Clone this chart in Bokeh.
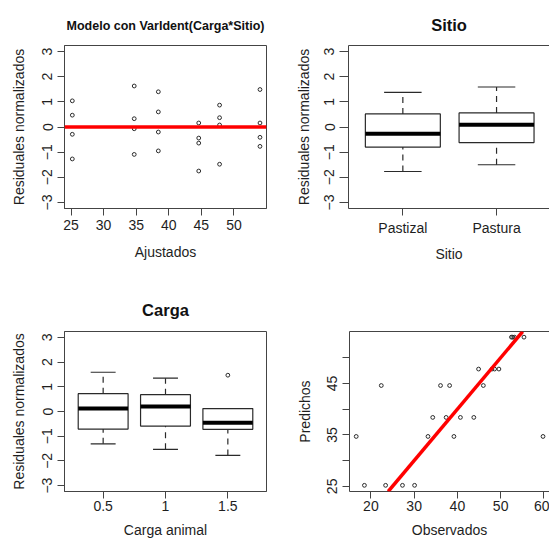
from bokeh.plotting import figure
from bokeh.layouts import column, row
from bokeh.models import Range1d, FixedTicker, Span, Slope, LinearAxis
from bokeh.embed import file_html
from bokeh.resources import INLINE

# ---- data -------------------------------------------------------------
# fitted (predicted) value of each observation, 6 Carga x Sitio cells of 4
fitted = [25.2, 25.2, 25.2, 25.2,
          34.7, 34.7, 34.7, 34.7,
          38.4, 38.4, 38.4, 38.4,
          44.6, 44.6, 44.6, 44.6,
          47.8, 47.8, 47.8, 47.8,
          54.0, 54.0, 54.0, 54.0]
observed = [18.5, 23.4, 27.3, 30.1,
            16.6, 33.2, 39.2, 59.8,
            34.3, 37.4, 40.7, 43.8,
            22.4, 36.1, 38.2, 46.0,
            44.9, 48.0, 48.6, 49.6,
            52.5, 52.8, 53.2, 55.4]
residuals = [-1.27, -0.29, 0.47, 1.04,
             -1.09, -0.07, 0.33, 1.63,
             -0.95, -0.20, 0.60, 1.40,
             -1.75, -0.64, -0.44, 0.16,
             -1.48, 0.08, 0.37, 0.87,
             -0.77, -0.41, 0.16, 1.49]

# boxplot summaries of the normalized residuals
sitio_labels = ["Pastizal", "Pastura"]
sitio_lo = [-1.77, -1.50]
sitio_q1 = [-0.80, -0.62]
sitio_med = [-0.27, 0.09]
sitio_q3 = [0.52, 0.56]
sitio_hi = [1.38, 1.59]

carga_labels = ["0.5", "1", "1.5"]
carga_lo = [-1.31, -1.53, -1.78]
carga_q1 = [-0.71, -0.59, -0.72]
carga_med = [0.12, 0.20, -0.46]
carga_q3 = [0.72, 0.68, 0.12]
carga_hi = [1.59, 1.35, 0.12]
carga_out_group = [3]
carga_out_value = [1.47]

resid_ticks = [-3, -2, -1, 0, 1, 2, 3]
fitted_ticks = [25, 30, 35, 40, 45, 50]
obs_ticks = [20, 30, 40, 50, 60]
pred_ticks = [25, 30, 35, 40, 45, 50]
pred_tick_labels = {30: "", 40: "", 50: ""}

# ---- styling ----------------------------------------------------------
FONT = "Liberation Sans"
TEXT = "#1e1e1e"
FRAME = "#444444"
INK = "#2a2a2a"
DOT = 3.8
FS = "14px"


def base_fig(w, h, xr, yr, left, right, top, bottom, title=None):
    p = figure(width=w, height=h, x_range=xr, y_range=yr,
               output_backend="svg", toolbar_location=None,
               min_border_left=left, min_border_right=right,
               min_border_top=top, min_border_bottom=bottom,
               title=title)
    p.grid.visible = False
    p.background_fill_color = "white"
    p.border_fill_color = "white"
    p.outline_line_color = FRAME
    p.outline_line_width = 1
    if title:
        p.title.align = "center"
        p.title.text_font = FONT
        p.title.text_font_style = "bold"
        p.title.text_color = "#111111"
    return p


def style_axis(ax, label, ticks, tick_out=7, label_standoff=4,
               axis_standoff=12, overrides=None):
    ax.ticker = FixedTicker(ticks=ticks)
    ax.axis_label = label
    ax.axis_line_color = FRAME
    ax.major_tick_line_color = FRAME
    ax.major_tick_in = 0
    ax.major_tick_out = tick_out
    ax.minor_tick_line_color = None
    ax.major_label_text_font = FONT
    ax.major_label_text_font_size = FS
    ax.major_label_text_color = TEXT
    ax.major_label_standoff = label_standoff
    ax.axis_label_text_font = FONT
    ax.axis_label_text_font_size = FS
    ax.axis_label_text_font_style = "normal"
    ax.axis_label_text_color = TEXT
    ax.axis_label_standoff = axis_standoff
    if overrides:
        ax.major_label_overrides = overrides


def top_border(p):
    # a bare axis on top closes the frame where the right side runs off the page
    p.outline_line_color = None
    top = LinearAxis(ticker=FixedTicker(ticks=[]), major_tick_out=0,
                     major_tick_in=0, major_label_text_font_size="0px",
                     major_label_standoff=0, axis_label_standoff=0,
                     axis_line_color=FRAME, minor_tick_line_color=None)
    p.add_layout(top, "above")


def boxplot(p, lo, q1, med, q3, hi):
    pos = list(range(1, len(med) + 1))
    half = 0.4
    cap = 0.2
    p.segment(x0=pos, y0=q3, x1=pos, y1=hi, line_color=INK,
              line_width=1.2, line_dash="6 5")
    p.segment(x0=pos, y0=lo, x1=pos, y1=q1, line_color=INK,
              line_width=1.2, line_dash="6 5")
    p.segment(x0=[x - cap for x in pos], y0=hi, x1=[x + cap for x in pos],
              y1=hi, line_color=INK, line_width=1.2)
    p.segment(x0=[x - cap for x in pos], y0=lo, x1=[x + cap for x in pos],
              y1=lo, line_color=INK, line_width=1.2)
    p.quad(left=[x - half for x in pos], right=[x + half for x in pos],
           bottom=q1, top=q3, fill_color="white", line_color=INK,
           line_width=1.2)
    p.segment(x0=[x - half for x in pos], y0=med, x1=[x + half for x in pos],
              y1=med, line_color="black", line_width=4)
    return pos


# ---- panel 1: residuals vs fitted --------------------------------------
p1 = base_fig(275, 286, Range1d(24.0, 55.0), Range1d(-3.24, 3.24),
              64, 9, 44, 78, "Modelo con VarIdent(Carga*Sitio)")
p1.title.text_font_size = "12.5px"
p1.title.standoff = 26
style_axis(p1.below[0], "Ajustados", fitted_ticks, label_standoff=4,
           axis_standoff=11)
style_axis(p1.left[0], "Residuales normalizados", resid_ticks,
           label_standoff=5, axis_standoff=13)
p1.left[0].major_label_orientation = "vertical"
p1.add_layout(Span(location=0, dimension="width", line_color="#ff0000",
                   line_width=3.5))
p1.scatter(fitted, residuals, marker="circle", size=DOT, fill_color=None,
           line_color=INK, line_width=1)

# ---- panel 2: residuals by Sitio ---------------------------------------
p2 = base_fig(274, 286, Range1d(0.42, 2.565), Range1d(-3.24, 3.24),
              73, 0, 45, 78, "Sitio")
p2.title.text_font_size = "16.5px"
p2.title.standoff = 24
style_axis(p2.below[0], "Sitio", [1, 2], label_standoff=4, axis_standoff=7,
           overrides={1: sitio_labels[0], 2: sitio_labels[1]})
style_axis(p2.left[0], "Residuales normalizados", resid_ticks, tick_out=9,
           label_standoff=5, axis_standoff=10)
p2.left[0].major_label_orientation = "vertical"
top_border(p2)
boxplot(p2, sitio_lo, sitio_q1, sitio_med, sitio_q3, sitio_hi)

# ---- panel 3: residuals by Carga ---------------------------------------
p3 = base_fig(275, 257, Range1d(0.38, 3.62), Range1d(-3.24, 3.24),
              64, 9, 44, 52, "Carga")
p3.title.text_font_size = "16.5px"
p3.title.standoff = 25
style_axis(p3.below[0], "Carga animal", [1, 2, 3], label_standoff=2,
           axis_standoff=8,
           overrides={i + 1: lab for i, lab in enumerate(carga_labels)})
style_axis(p3.left[0], "Residuales normalizados", resid_ticks,
           label_standoff=5, axis_standoff=13)
p3.left[0].major_label_orientation = "vertical"
boxplot(p3, carga_lo, carga_q1, carga_med, carga_q3, carga_hi)
p3.scatter(carga_out_group, carga_out_value, marker="circle", size=DOT,
           fill_color=None, line_color=INK, line_width=1)

# ---- panel 4: predicted vs observed ------------------------------------
p4 = base_fig(274, 257, Range1d(15.05, 61.3), Range1d(24.0, 55.1),
              74, 0, 44, 51)
style_axis(p4.below[0], "Observados", obs_ticks, label_standoff=2,
           axis_standoff=8)
style_axis(p4.left[0], "Predichos", pred_ticks, label_standoff=5,
           axis_standoff=12, overrides=pred_tick_labels)
p4.left[0].major_label_orientation = "vertical"
top_border(p4)
p4.add_layout(Slope(gradient=1, y_intercept=0, line_color="#ff0000",
                    line_width=3.5))
p4.scatter(observed, fitted, marker="circle", size=DOT, fill_color=None,
           line_color=INK, line_width=1)

layout = column(row(p1, p2), row(p3, p4))
open("out.html", "w").write(file_html(layout, INLINE))
